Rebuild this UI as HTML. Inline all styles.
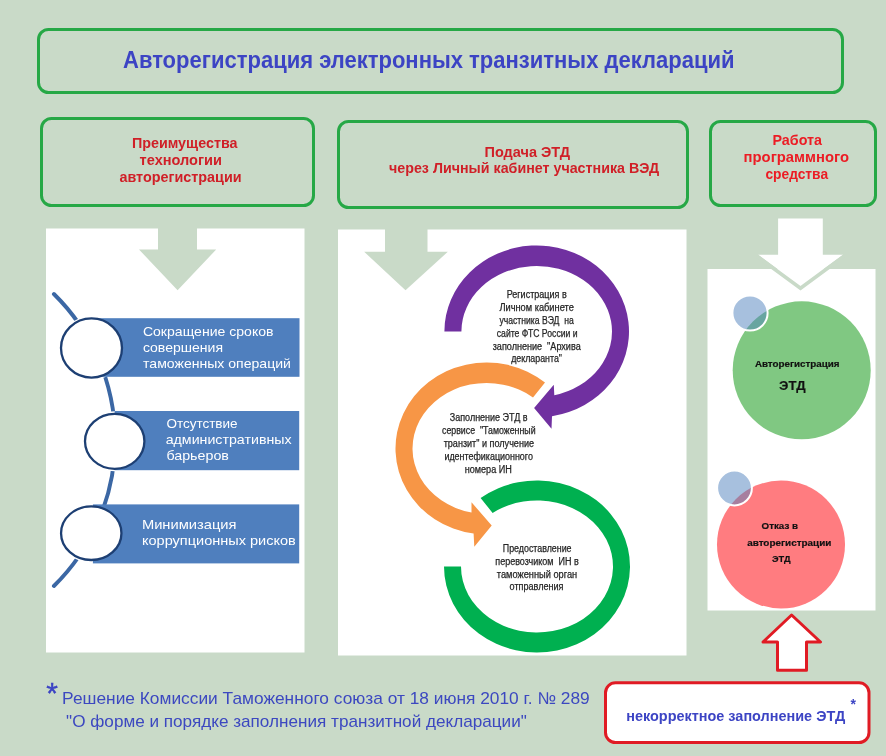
<!DOCTYPE html>
<html><head><meta charset="utf-8">
<style>
html,body{margin:0;padding:0;background:#c9dac8;}
body{width:886px;height:756px;overflow:hidden;position:relative;font-family:"Liberation Sans",sans-serif;}
svg{position:absolute;left:0;top:0;will-change:transform;filter:blur(0.35px);}
text{font-family:"Liberation Sans",sans-serif;white-space:pre;}
</style></head>
<body>
<svg width="886" height="756" viewBox="0 0 886 756">
<rect x="0" y="0" width="886" height="756" fill="#c9dac8"/>
<!-- title box -->
<rect x="38.5" y="29.5" width="804" height="63" rx="10" fill="none" stroke="#26a846" stroke-width="3"/>
<text x="123" y="68" font-size="23" font-weight="bold" fill="#3c44c4" textLength="611.5" lengthAdjust="spacingAndGlyphs">Авторегистрация электронных транзитных деклараций</text>
<!-- header boxes -->
<rect x="41.5" y="118.5" width="272" height="87" rx="10" fill="none" stroke="#26a846" stroke-width="3"/>
<rect x="338.5" y="121.5" width="349" height="86" rx="10" fill="none" stroke="#26a846" stroke-width="3"/>
<rect x="710.5" y="121.5" width="165" height="84" rx="10" fill="none" stroke="#26a846" stroke-width="3"/>
<g font-size="14" font-weight="bold" fill="#e3202a">
<text fill="#d01f27" x="131.9" y="147.9" textLength="105.6" lengthAdjust="spacingAndGlyphs">Преимущества</text>
<text fill="#d01f27" x="139.6" y="165.0" textLength="82.4" lengthAdjust="spacingAndGlyphs">технологии</text>
<text fill="#d01f27" x="119.4" y="181.9" textLength="122.2" lengthAdjust="spacingAndGlyphs">авторегистрации</text>
<text fill="#d01f27" x="484.5" y="157.1" textLength="85.6" lengthAdjust="spacingAndGlyphs">Подача ЭТД</text>
<text fill="#d01f27" x="389.0" y="173.4" textLength="270.2" lengthAdjust="spacingAndGlyphs">через Личный кабинет участника ВЭД</text>
<text fill="#ec1c24" x="772.5" y="145.2" textLength="49.5" lengthAdjust="spacingAndGlyphs">Работа</text>
<text fill="#ec1c24" x="743.6" y="161.8" textLength="105.4" lengthAdjust="spacingAndGlyphs">программного</text>
<text fill="#ec1c24" x="765.4" y="178.6" textLength="62.7" lengthAdjust="spacingAndGlyphs">средства</text>
</g>
<!-- white panels -->
<rect x="46" y="228.5" width="258.5" height="424" fill="#ffffff"/>
<rect x="338" y="229.5" width="348.5" height="426" fill="#ffffff"/>
<rect x="707.5" y="269" width="168" height="341.5" fill="#ffffff"/>
<!-- arrows -->
<path d="M158 228 L197 228 L197 249.5 L216.2 249.5 L177.6 290.2 L139 249.5 L158 249.5 Z" fill="#c9dac8"/>
<path d="M385 229 L427.5 229 L427.5 251.8 L447.8 251.8 L405.5 290.2 L364.2 251.8 L385 251.8 Z" fill="#c9dac8"/>
<path d="M778.1 218.4 L822.8 218.4 L822.8 254.8 L843.2 254.8 L800.5 286 L758.2 254.8 L778.1 254.8 Z" fill="#ffffff"/>
<path d="M757.1 256.3 L800.5 288.2 L843.9 256.3" fill="none" stroke="#c9dac8" stroke-width="3.6" stroke-linejoin="miter"/>
<!-- panel 1: curved list -->
<path d="M53.9 294 A204.7 204.7 0 0 1 53.9 586" fill="none" stroke="#3b67a4" stroke-width="3.9" stroke-linecap="round"/>
<ellipse cx="91.5" cy="348" rx="33" ry="32" fill="#fff"/>
<ellipse cx="114.7" cy="441.3" rx="32.2" ry="30" fill="#fff"/>
<ellipse cx="91.25" cy="533.2" rx="32.7" ry="29.3" fill="#fff"/>
<rect x="91.5" y="318.2" width="208" height="58.6" fill="#4f7fbe"/>
<rect x="114.7" y="411" width="184.5" height="59.2" fill="#4f7fbe"/>
<rect x="92.9" y="504.4" width="206.3" height="59" fill="#4f7fbe"/>
<ellipse cx="91.5" cy="348" rx="30.5" ry="29.6" fill="#fff" stroke="#1d3f73" stroke-width="2.3"/>
<ellipse cx="114.7" cy="441.3" rx="29.7" ry="27.5" fill="#fff" stroke="#1d3f73" stroke-width="2.3"/>
<ellipse cx="91.25" cy="533.2" rx="30.2" ry="26.8" fill="#fff" stroke="#1d3f73" stroke-width="2.3"/>
<g font-size="13.5" fill="#ffffff">
<text x="142.9" y="335.7" textLength="130.6" lengthAdjust="spacingAndGlyphs">Сокращение сроков</text>
<text x="142.9" y="351.7" textLength="80.1" lengthAdjust="spacingAndGlyphs">совершения</text>
<text x="143.1" y="367.6" textLength="147.8" lengthAdjust="spacingAndGlyphs">таможенных операций</text>
<text x="166.4" y="427.7" textLength="71.2" lengthAdjust="spacingAndGlyphs">Отсутствие</text>
<text x="165.7" y="443.7" textLength="125.9" lengthAdjust="spacingAndGlyphs">административных</text>
<text x="166.4" y="459.6" textLength="62.5" lengthAdjust="spacingAndGlyphs">барьеров</text>
<text x="141.9" y="529" textLength="94.6" lengthAdjust="spacingAndGlyphs">Минимизация</text>
<text x="142.0" y="545.3" textLength="153.8" lengthAdjust="spacingAndGlyphs">коррупционных рисков</text>
</g>
<!-- panel 2: circular arrows -->
<path d="M444.4 331.5 A92.3 86.0 0 1 1 552.0 416.3 L551.5 428.8 L534.1 408.0 L553.8 384.8 L554.3 395.2 A75.3 65.5 0 1 0 461.4 331.5 Z" fill="#7030a0"/>
<path d="M545.0 382.6 A91.0 86.0 0 1 0 473.6 533.6 L474.3 546.7 L491.7 525.6 L471.5 502.2 L471.5 512.6 A74.0 65.5 0 1 1 533.0 397.5 Z" fill="#f79646"/>
<path d="M480.6 498.1 A93.0 86.0 0 1 1 444.0 566.5 L461.0 566.5 A76.0 66.0 0 1 0 492.6 512.9 Z" fill="#00b050"/>
<g font-size="10" fill="#262626" stroke="#262626" stroke-width="0.25">
<text x="506.7" y="297.8" textLength="60.0" lengthAdjust="spacingAndGlyphs">Регистрация в</text>
<text x="499.4" y="310.8" textLength="74.4" lengthAdjust="spacingAndGlyphs">Личном кабинете</text>
<text x="499.4" y="323.5" textLength="74.4" lengthAdjust="spacingAndGlyphs">участника ВЭД  на</text>
<text x="496.8" y="336.6" textLength="80.8" lengthAdjust="spacingAndGlyphs">сайте ФТС России и</text>
<text x="492.7" y="349.6" textLength="88.0" lengthAdjust="spacingAndGlyphs">заполнение  "Архива</text>
<text x="511.2" y="362" textLength="50.8" lengthAdjust="spacingAndGlyphs">декларанта"</text>
<text x="449.8" y="421" textLength="77.8" lengthAdjust="spacingAndGlyphs">Заполнение ЭТД в</text>
<text x="442.0" y="434" textLength="93.6" lengthAdjust="spacingAndGlyphs">сервисе  "Таможенный</text>
<text x="443.7" y="447.1" textLength="90.3" lengthAdjust="spacingAndGlyphs">транзит" и получение</text>
<text x="444.4" y="460.1" textLength="88.5" lengthAdjust="spacingAndGlyphs">идентефикационного</text>
<text x="464.7" y="472.6" textLength="47.2" lengthAdjust="spacingAndGlyphs">номера ИН</text>
<text x="502.8" y="551.9" textLength="68.7" lengthAdjust="spacingAndGlyphs">Предоставление</text>
<text x="495.3" y="564.6" textLength="83.5" lengthAdjust="spacingAndGlyphs">перевозчиком  ИН в</text>
<text x="496.8" y="577.5" textLength="80.4" lengthAdjust="spacingAndGlyphs">таможенный орган</text>
<text x="509.6" y="590.2" textLength="53.9" lengthAdjust="spacingAndGlyphs">отправления</text>
</g>
<!-- panel 3 -->
<circle cx="801.7" cy="370.3" r="69" fill="#80c882"/>
<circle cx="750" cy="313" r="17.6" fill="rgba(79,129,189,0.5)" stroke="#fff" stroke-width="2"/>
<circle cx="781" cy="544.5" r="64" fill="#ff7c80"/>
<circle cx="734.5" cy="488" r="17.4" fill="rgba(79,129,189,0.5)" stroke="#fff" stroke-width="2"/>
<g font-weight="bold" fill="#111" stroke="#111" stroke-width="0.2">
<text x="754.9" y="366.9" font-size="9.6" textLength="84.6" lengthAdjust="spacingAndGlyphs">Авторегистрация</text>
<text x="779.1" y="390.4" font-size="13.5" textLength="26.4" lengthAdjust="spacingAndGlyphs">ЭТД</text>
<text x="761.6" y="529.1" font-size="9.6" textLength="36.4" lengthAdjust="spacingAndGlyphs">Отказ в</text>
<text x="747.2" y="546" font-size="9.6" textLength="84.2" lengthAdjust="spacingAndGlyphs">авторегистрации</text>
<text x="772.0" y="562.2" font-size="9.6" textLength="18.6" lengthAdjust="spacingAndGlyphs">ЭТД</text>
</g>
<!-- red up arrow -->
<path d="M791.6 615 L820.5 642 L806.5 642 L806.5 670.3 L777.5 670.3 L777.5 642 L763 642 Z" fill="#fff" stroke="#e01b24" stroke-width="3" stroke-linejoin="round"/>
<!-- bottom red box -->
<rect x="605.5" y="682.8" width="263.5" height="59.8" rx="10" fill="#fff" stroke="#e01b24" stroke-width="3"/>
<text x="626.2" y="721" font-size="15" font-weight="bold" fill="#3c44c4" textLength="219.0" lengthAdjust="spacingAndGlyphs">некорректное заполнение ЭТД</text>
<text x="850.5" y="709" font-size="14" font-weight="bold" fill="#3c44c4">*</text>
<!-- footnote -->
<text x="46.3" y="702.6" font-size="30" fill="#3c44c4" stroke="#3c44c4" stroke-width="0.4">*</text>
<g font-size="17" fill="#3c48c0">
<text x="62.1" y="703.8" textLength="527.6" lengthAdjust="spacingAndGlyphs">Решение Комиссии Таможенного союза от 18 июня 2010 г. № 289</text>
<text x="66.1" y="727.4" textLength="460.7" lengthAdjust="spacingAndGlyphs">"О форме и порядке заполнения транзитной декларации"</text>
</g>
</svg>
</body></html>
